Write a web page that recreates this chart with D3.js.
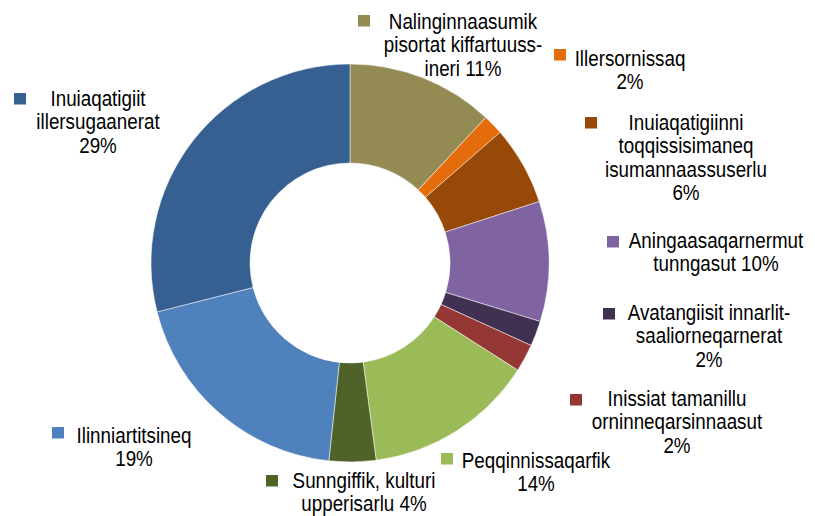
<!DOCTYPE html>
<html>
<head>
<meta charset="utf-8">
<script src="https://cdn.jsdelivr.net/npm/d3@7"></script>
<style>
  body { margin: 0; background: #fff; }
  svg text { font-family: "Liberation Sans", Arial, sans-serif; fill: #000; }
</style>
</head>
<body>
<svg id="chart" width="815" height="516"></svg>
<script>
// shares of each slice, clockwise from 12 o'clock
const categories = [
  "Nalinginnaasumik pisortat kiffartuussineri",
  "Illersornissaq",
  "Inuiaqatigiinni toqqissisimaneq isumannaassuserlu",
  "Aningaasaqarnermut tunngasut",
  "Avatangiisit innarlitsaaliorneqarnerat",
  "Inissiat tamanillu orninneqarsinnaasut",
  "Peqqinnissaqarfik",
  "Sunngiffik, kulturi upperisarlu",
  "Ilinniartitsineq",
  "Inuiaqatigiit illersugaanerat"
];
const values = [11.95, 1.65, 6.4, 9.75, 2.05, 2.25, 13.85, 3.8, 19.35, 28.95];
const pctLabels = ["11%", "2%", "6%", "10%", "2%", "2%", "14%", "4%", "19%", "29%"];

// how the label text wraps in the reference
const labelLines = [
  ["Nalinginnaasumik", "pisortat kiffartuuss-", "ineri {p}"],
  ["Illersornissaq", "{p}"],
  ["Inuiaqatigiinni", "toqqissisimaneq", "isumannaassuserlu", "{p}"],
  ["Aningaasaqarnermut", "tunngasut {p}"],
  ["Avatangiisit innarlit-", "saaliorneqarnerat", "{p}"],
  ["Inissiat tamanillu", "orninneqarsinnaasut", "{p}"],
  ["Peqqinnissaqarfik", "{p}"],
  ["Sunngiffik, kulturi", "upperisarlu {p}"],
  ["Ilinniartitsineq", "{p}"],
  ["Inuiaqatigiit", "illersugaanerat", "{p}"]
];

const colors = ["#948a54", "#e46c0a", "#984807", "#8064a2", "#403152",
                "#953735", "#9bbb59", "#4f6228", "#4f81bd", "#376092"];

// label placement: marker top-left, text centre x, first baseline
const labelLayout = [
  {mx: 358, my: 15,  cx: 463, by: 29},
  {mx: 554, my: 49,  cx: 630, by: 66},
  {mx: 585, my: 117, cx: 686, by: 130},
  {mx: 607, my: 236, cx: 716, by: 248},
  {mx: 603, my: 308, cx: 709, by: 320},
  {mx: 570, my: 394, cx: 677, by: 406},
  {mx: 441, my: 453, cx: 536, by: 468},
  {mx: 266, my: 475, cx: 364, by: 488},
  {mx: 52,  my: 427, cx: 134, by: 443},
  {mx: 14,  my: 93,  cx: 98,  by: 106}
];

const cx = 350, cy = 263;
const outerR = 199, innerR = 100;
const lineH = 23.5;
const narrow = 0.855; // squeeze the text to look like a condensed face

const svg = d3.select("#chart");

const data = categories.map((c, i) => ({name: c, value: values[i], i: i}));

const pie = d3.pie().sort(null).value(d => d.value);
const arc = d3.arc().innerRadius(innerR).outerRadius(outerR);

const color = d3.scaleOrdinal().domain(categories).range(colors);

svg.append("g")
    .attr("transform", `translate(${cx},${cy})`)
    .selectAll("path")
    .data(pie(data))
    .enter().append("path")
    .attr("d", arc)
    .attr("fill", d => color(d.data.name))
    .attr("stroke", "#fff")
    .attr("stroke-width", 0.5);

const labels = svg.append("g")
    .selectAll("g")
    .data(data)
    .enter().append("g");

labels.append("rect")
    .attr("x", d => labelLayout[d.i].mx)
    .attr("y", d => labelLayout[d.i].my)
    .attr("width", 12)
    .attr("height", 11.5)
    .attr("fill", d => color(d.name));

labels.each(function (d) {
    let pos = labelLayout[d.i];
    let t = d3.select(this).append("text")
        .attr("text-anchor", "middle")
        .attr("font-size", 22)
        .attr("transform", `translate(${pos.cx},0) scale(${narrow},1)`);
    labelLines[d.i].forEach((ln, k) => {
        t.append("tspan")
            .attr("x", 0)
            .attr("y", pos.by + k * lineH)
            .text(ln.replace("{p}", pctLabels[d.i]));
    });
});
</script>
</body>
</html>
